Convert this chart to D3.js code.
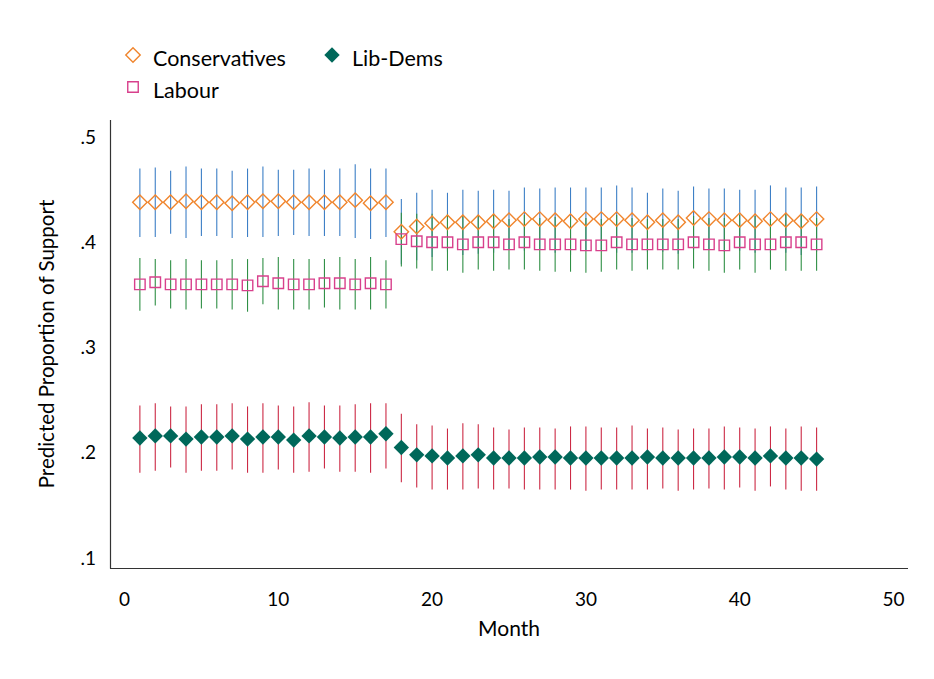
<!DOCTYPE html>
<html>
<head>
<meta charset="utf-8">
<script src="https://cdn.jsdelivr.net/npm/d3@7"></script>
<style>
  body { margin: 0; background: #fff; }
  text { font-family: Lato, "DejaVu Sans", sans-serif; fill: #000; }
</style>
</head>
<body>
<div id="chart"></div>
<script>
var width = 934, height = 679;

// months 1..45
var months = d3.range(1, 46);

// Conservatives: estimate and interval
var conEst = [.438, .438, .438, .439, .438, .438, .437, .438, .439, .439, .438, .438, .438, .438, .440, .437, .438,
  .410, .415, .418, .419, .419, .419, .420, .421, .422, .422, .421, .420, .422, .422, .422, .421, .419, .421, .419,
  .423, .422, .421, .421, .420, .422, .421, .420, .422];
var conHi = [.470, .471, .468, .472, .470, .470, .468, .470, .472, .469, .469, .470, .469, .470, .474, .470, .470,
  .441, .447, .450, .447, .450, .449, .450, .449, .452, .451, .452, .452, .452, .452, .454, .452, .447, .451, .449,
  .453, .451, .451, .450, .450, .454, .452, .452, .453];
var conLo = [.405, .405, .408, .404, .406, .406, .404, .405, .405, .406, .407, .406, .406, .406, .404, .403, .405,
  .379, .383, .386, .391, .388, .389, .390, .393, .392, .393, .390, .388, .392, .392, .390, .390, .391, .391, .389,
  .393, .393, .391, .392, .390, .390, .390, .388, .391];

// Labour
var labEst = [.360, .362, .360, .360, .360, .360, .360, .359, .363, .361, .360, .360, .361, .361, .360, .361, .360,
  .403, .401, .400, .400, .398, .400, .400, .398, .400, .398, .398, .398, .397, .397, .400, .398, .398, .398, .398,
  .400, .398, .397, .400, .398, .398, .400, .400, .398];
var labHi = [.385, .384, .383, .384, .383, .383, .384, .384, .385, .386, .384, .384, .384, .386, .384, .386, .383,
  .428, .427, .427, .427, .425, .426, .427, .422, .426, .423, .424, .424, .423, .422, .426, .423, .422, .422, .422,
  .425, .423, .423, .426, .425, .422, .427, .427, .423];
var labLo = [.335, .340, .337, .336, .337, .337, .336, .334, .341, .336, .336, .336, .338, .336, .336, .336, .337,
  .377, .375, .373, .373, .371, .374, .373, .374, .374, .373, .372, .372, .371, .372, .374, .373, .374, .374, .374,
  .375, .373, .371, .374, .371, .374, .373, .373, .373];

// Lib-Dems
var ldEst = [.214, .216, .216, .213, .215, .215, .216, .213, .215, .215, .212, .216, .215, .214, .215, .215, .218,
  .205, .198, .197, .195, .197, .198, .195, .195, .195, .196, .196, .195, .195, .195, .195, .195, .196, .195, .195,
  .195, .195, .196, .196, .195, .197, .195, .195, .194];
var ldHi = [.245, .247, .244, .244, .246, .246, .247, .244, .247, .245, .244, .248, .245, .245, .246, .247, .247,
  .237, .227, .226, .223, .228, .227, .224, .222, .224, .224, .223, .225, .225, .224, .224, .226, .223, .224, .222,
  .223, .223, .225, .224, .223, .225, .223, .225, .224];
var ldLo = [.181, .183, .186, .181, .183, .183, .184, .181, .181, .184, .181, .182, .185, .182, .182, .181, .185,
  .172, .167, .165, .165, .165, .166, .165, .166, .165, .165, .165, .165, .164, .165, .165, .165, .165, .166, .164,
  .165, .166, .165, .167, .164, .168, .165, .164, .164];

var xTicks = [0, 10, 20, 30, 40, 50];
var yTicks = [.1, .2, .3, .4, .5];

var series = [
  { name: "Conservatives", est: conEst, lo: conLo, hi: conHi, bar: "#3d7fc6", color: "#f0852d", shape: "diamond", filled: false },
  { name: "Labour", est: labEst, lo: labLo, hi: labHi, bar: "#2f8f45", color: "#d8408c", shape: "square", filled: false },
  { name: "Lib-Dems", est: ldEst, lo: ldLo, hi: ldHi, bar: "#cc2a45", color: "#00685a", shape: "diamond", filled: true }
];

var x = d3.scaleLinear().domain([0, 50]).range([124.5, 893.5]);
var y = d3.scaleLinear().domain([.1, .5]).range([558, 137]);

var svg = d3.select("#chart").append("svg")
  .attr("width", width)
  .attr("height", height);

// axis lines (no tick marks)
svg.append("line")
  .attr("x1", 110.5).attr("x2", 110.5)
  .attr("y1", 120).attr("y2", 568.5)
  .style("stroke", "#333").style("stroke-width", 1.2);
svg.append("line")
  .attr("x1", 110).attr("x2", 908)
  .attr("y1", 568.5).attr("y2", 568.5)
  .style("stroke", "#333").style("stroke-width", 1.2);

// tick labels
svg.selectAll(".ylab").data(yTicks).enter().append("text")
  .attr("class", "ylab")
  .attr("x", 96)
  .attr("y", function (d) { return y(d); })
  .attr("dy", ".35em")
  .attr("text-anchor", "end")
  .style("font-size", "19px")
  .text(function (d) { return d3.format(".1f")(d).replace(/^0/, ""); });

svg.selectAll(".xlab").data(xTicks).enter().append("text")
  .attr("class", "xlab")
  .attr("x", function (d) { return x(d); })
  .attr("y", 606)
  .attr("text-anchor", "middle")
  .style("font-size", "19px")
  .text(String);

// axis titles
svg.append("text")
  .attr("transform", "translate(54,344) rotate(-90)")
  .attr("text-anchor", "middle")
  .style("font-size", "20.5px")
  .text("Predicted Proportion of Support");
svg.append("text")
  .attr("x", 509)
  .attr("y", 636)
  .attr("text-anchor", "middle")
  .style("font-size", "21px")
  .text("Month");

function symbolPath(shape, filled) {
  if (shape === "square") return d3.symbol(d3.symbolSquare, 110)();
  return d3.symbol(d3.symbolSquare, filled ? 118 : 104)();
}

// interval bars
series.forEach(function (s) {
  svg.append("g").selectAll("line").data(months).enter().append("line")
    .attr("x1", function (d) { return x(d); })
    .attr("x2", function (d) { return x(d); })
    .attr("y1", function (d, i) { return y(s.hi[i]); })
    .attr("y2", function (d, i) { return y(s.lo[i]); })
    .style("stroke", s.bar)
    .style("stroke-width", 1.1);
});

// markers
series.forEach(function (s) {
  svg.append("g").selectAll("path").data(months).enter().append("path")
    .attr("d", symbolPath(s.shape, s.filled))
    .attr("transform", function (d, i) {
      return "translate(" + x(d) + "," + y(s.est[i]) + ")" + (s.shape === "diamond" ? " rotate(45)" : "");
    })
    .style("fill", s.filled ? s.color : "none")
    .style("stroke", s.filled ? "none" : s.color)
    .style("stroke-width", 1.4);
});

// legend
var legendItems = [
  { s: series[0], x: 133, y: 55 },
  { s: series[2], x: 332, y: 55 },
  { s: series[1], x: 133, y: 87 }
];
var legend = svg.append("g");
legendItems.forEach(function (l) {
  legend.append("path")
    .attr("d", symbolPath(l.s.shape, l.s.filled))
    .attr("transform", "translate(" + l.x + "," + l.y + ")" + (l.s.shape === "diamond" ? " rotate(45)" : ""))
    .style("fill", l.s.filled ? l.s.color : "none")
    .style("stroke", l.s.filled ? "none" : l.s.color)
    .style("stroke-width", 1.4);
  legend.append("text")
    .attr("x", l.x + 20)
    .attr("y", l.y + 11)
    .style("font-size", "21.5px")
    .text(l.s.name);
});
</script>
</body>
</html>
